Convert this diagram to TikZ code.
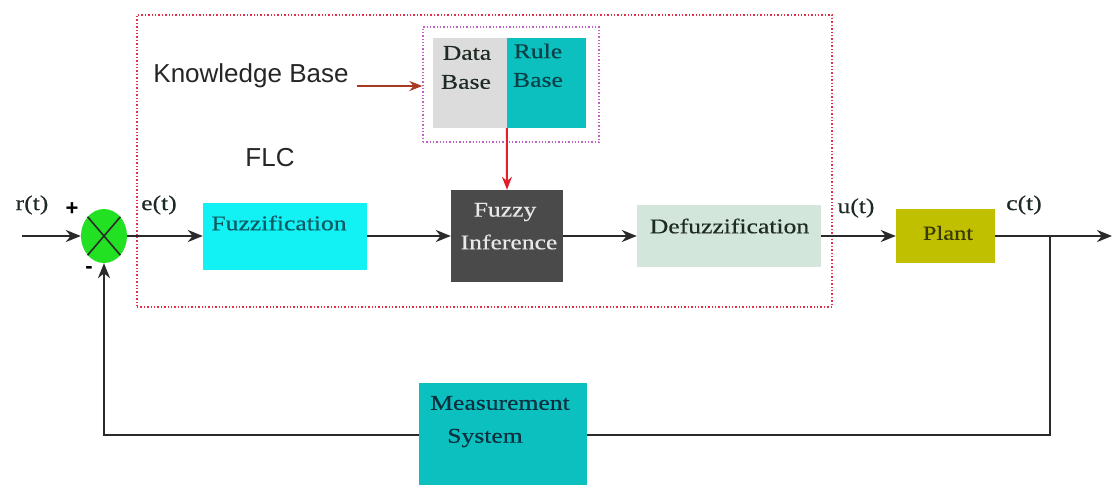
\documentclass[tikz,border=0pt]{standalone}
\usepackage{fontspec}
\setmainfont{Liberation Serif}[FakeStretch=1.22,FakeBold=0.4]
\newfontfamily\kbfont{Liberation Sans}
\usetikzlibrary{arrows.meta,shapes.geometric}
\definecolor{fuzzc}{HTML}{12F2F4}
\definecolor{tealc}{HTML}{0CC0C0}
\definecolor{infc}{HTML}{4A4A4A}
\definecolor{defc}{HTML}{D3E6DB}
\definecolor{plantc}{HTML}{C0C000}
\definecolor{datac}{HTML}{DCDCDC}
\definecolor{sumc}{HTML}{22E022}
\definecolor{linec}{HTML}{2A2A2A}
\definecolor{flcred}{HTML}{E0304A}
\definecolor{kbviolet}{HTML}{C060C8}
\definecolor{kbarrc}{HTML}{A83A22}
\definecolor{redarr}{HTML}{E0202C}
\definecolor{fuzztxt}{HTML}{0E5A64}
\definecolor{darktxt}{HTML}{1E2A24}
\definecolor{ruletxt}{HTML}{0A4048}
\definecolor{planttxt}{HTML}{3A3A00}
\definecolor{meastxt}{HTML}{0A3040}
\definecolor{inftxt}{HTML}{E8E8E8}
\begin{document}
\begin{tikzpicture}[x=1pt,y=-1pt,
  box/.style={rectangle, draw=none, inner sep=0pt},
  txt/.style={font=\fontsize{21}{25}\selectfont, inner sep=0pt},
  sanstxt/.style={font=\kbfont\fontsize{26}{30}\selectfont, inner sep=0pt},
  conn/.style={draw=linec, line width=2.8pt},
  arr/.style={conn, -{Stealth[length=15pt,width=12pt]}},
  frame/.style={rectangle, draw=flcred, dotted, line width=1.4pt, inner sep=0pt},
  kbframe/.style={rectangle, draw=kbviolet, dotted, line width=1.3pt, inner sep=0pt}
]
\useasboundingbox (0,0) rectangle (1114,485);
\fill[white] (0,0) rectangle (1114,485);

% FLC frame and knowledge base
\node[frame, minimum width=695pt, minimum height=292pt] (flc) at (484.5,161) {};
\node[kbframe, minimum width=176pt, minimum height=115pt] (kbox) at (511,84.5) {};
\node[box, fill=datac, minimum width=74pt, minimum height=90pt] (datab) at (470,83) {};
\node[box, fill=tealc, minimum width=79pt, minimum height=90pt] (ruleb) at (546.5,83) {};
\node[txt, text=darktxt] (datat1) at (467,53) {Data};
\node[txt, text=darktxt] (datat2) at (466,82) {Base};
\node[txt, text=ruletxt] (rulet1) at (538,51) {Rule};
\node[txt, text=ruletxt] (rulet2) at (538,80) {Base};

\node[sanstxt, text=black!85] (kbtext) at (251,76) {Knowledge Base};
\node[sanstxt, text=black!85] (flctext) at (270,158) {FLC};
\coordinate (kbs) at (357,86);
\draw[draw=kbarrc, line width=2.2pt, -{Stealth[length=13pt,width=10pt]}] (kbs) -- (kbs -| kbox.west);

% main blocks
\node[ellipse, fill=sumc, minimum width=46pt, minimum height=54pt, inner sep=0pt] (sum) at (104,236) {};
\draw[draw=linec, line width=1.6pt] (sum.north west) -- (sum.south east);
\draw[draw=linec, line width=1.6pt] (sum.north east) -- (sum.south west);

\node[box, fill=fuzzc, minimum width=164pt, minimum height=67pt] (fuzz) at (285,236) {};
\node[txt, text=fuzztxt] (fuzzt) at (279,223) {Fuzzification};

\node[box, fill=infc, minimum width=112pt, minimum height=92pt] (fi) at (507,236) {};
\node[txt, text=inftxt] (fit1) at (505,212) {Fuzzy};
\node[txt, text=inftxt] (fit2) at (509,242) {Inference};

\node[box, fill=defc, minimum width=184pt, minimum height=62pt] (defz) at (729,236) {};
\node[txt, text=darktxt] (defzt) at (729.5,226) {Defuzzification};

\node[box, fill=plantc, minimum width=99pt, minimum height=54pt] (plant) at (945.5,236) {};
\node[txt, text=planttxt, font=\fontsize{20}{24}\selectfont] (plantt) at (948,233) {Plant};

% signals
\coordinate (rin) at (22,236);
\coordinate (tap) at (1050,236);
\coordinate (yout) at (1112,236);
\coordinate (fbR) at (1050,435);
\coordinate (fbL) at (104,435);

\draw[arr] (rin) -- (sum.west);
\draw[arr] (sum.east) -- (fuzz.west);
\draw[arr] (fuzz.east) -- (fi.west);
\draw[arr] (fi.east) -- (defz.west);
\draw[arr] (defz.east) -- (plant.west);
\draw[arr] (plant.east) -- (yout);
\draw[arr] (tap) -- (fbR) -- (fbL) -- (sum.south);
\draw[draw=redarr, line width=2pt, -{Stealth[length=13pt,width=10pt]}] (ruleb.south west) -- (fi.north);

% measurement block (covers feedback line)
\node[box, fill=tealc, minimum width=168pt, minimum height=102pt] (meas) at (502.5,434) {};
\node[txt, text=meastxt] (meast1) at (500,403) {Measurement};
\node[txt, text=meastxt] (meast2) at (485,438) {System};

% labels
\node[txt, text=darktxt] (rlab) at (32,205) {r(t)};
\node[font=\kbfont\bfseries\fontsize{22}{26}\selectfont, inner sep=0pt] (plus) at (72,209) {+};
\node[font=\kbfont\bfseries\fontsize{22}{26}\selectfont, inner sep=0pt] (minus) at (89,270) {-};
\node[txt, text=darktxt] (elab) at (159,205) {e(t)};
\node[txt, text=darktxt] (ulab) at (856,208) {u(t)};
\node[txt, text=darktxt] (clab) at (1024,205) {c(t)};
\end{tikzpicture}
\end{document}
